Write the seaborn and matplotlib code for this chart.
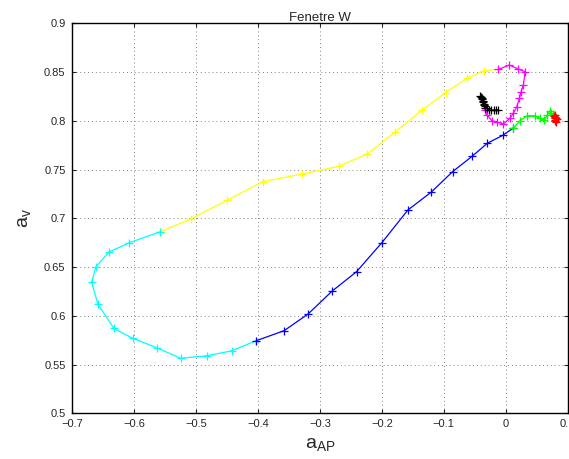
import matplotlib
matplotlib.use('Agg')
import matplotlib.pyplot as plt
import seaborn as sns
import pandas as pd

# trajectory segments (a_AP, a_v)
red_x = [0.082, 0.080, 0.079, 0.081, 0.083, 0.080, 0.078, 0.080, 0.0797]
red_y = [0.803, 0.806, 0.801, 0.799, 0.802, 0.804, 0.805, 0.800, 0.8026]

green_x = [0.0797, 0.076, 0.0740, 0.0717, 0.0674, 0.0626, 0.0556, 0.047, 0.035, 0.0232, 0.0126]
green_y = [0.8026, 0.807, 0.8077, 0.8104, 0.806, 0.8008, 0.8026, 0.8052, 0.8052, 0.8001, 0.7926]

blue_x = [0.0126, -0.0047, -0.0295, -0.0536, -0.0858, -0.120, -0.158, -0.200, -0.241, -0.281, -0.319, -0.358, -0.403]
blue_y = [0.7926, 0.7851, 0.777, 0.7639, 0.7478, 0.727, 0.7085, 0.675, 0.6452, 0.6250, 0.6020, 0.5847, 0.5745]

cyan_x = [-0.403, -0.443, -0.483, -0.525, -0.563, -0.603, -0.633, -0.659, -0.669, -0.662, -0.641, -0.608, -0.559]
cyan_y = [0.5745, 0.564, 0.559, 0.5564, 0.567, 0.577, 0.587, 0.612, 0.6344, 0.6504, 0.6654, 0.675, 0.686]

yellow_x = [-0.559, -0.509, -0.450, -0.3927, -0.329, -0.270, -0.2236, -0.178, -0.135, -0.097, -0.062, -0.035, -0.0116]
yellow_y = [0.686, 0.6993, 0.7185, 0.7376, 0.7454, 0.7533, 0.766, 0.7888, 0.811, 0.829, 0.8436, 0.8516, 0.8528]

magenta_x = [-0.0116, 0.0061, 0.0206, 0.0314, 0.0287, 0.025, 0.0222, 0.018, 0.0125, 0.0071, -0.0037, -0.0143, -0.022, -0.030, -0.033]
magenta_y = [0.8528, 0.8572, 0.8531, 0.8504, 0.8367, 0.830, 0.823, 0.8145, 0.808, 0.8026, 0.7967, 0.799, 0.7998, 0.806, 0.811]

black_x = [-0.033, -0.035, -0.037, -0.039, -0.040, -0.041, -0.039, -0.037, -0.035, -0.033, -0.030, -0.027, -0.023, -0.019, -0.015, -0.012]
black_y = [0.8134, 0.816, 0.819, 0.822, 0.824, 0.825, 0.823, 0.820, 0.817, 0.815, 0.813, 0.811, 0.811, 0.811, 0.811, 0.8113]

segments = [
    ('#ffff00', yellow_x, yellow_y),
    ('#00ffff', cyan_x, cyan_y),
    ('#0000ff', blue_x, blue_y),
    ('#00ff00', green_x, green_y),
    ('#ff0000', red_x, red_y),
    ('#ff00ff', magenta_x, magenta_y),
    ('#000000', black_x, black_y),
]

x_ticks = [-0.7, -0.6, -0.5, -0.4, -0.3, -0.2, -0.1, 0, 0.1]
y_ticks = [0.5, 0.55, 0.6, 0.65, 0.7, 0.75, 0.8, 0.85, 0.9]
x_labels = ['\u22120.7', '\u22120.6', '\u22120.5', '\u22120.4', '\u22120.3',
            '\u22120.2', '\u22120.1', '0', '0.1']
y_labels = ['0.5', '0.55', '0.6', '0.65', '0.7', '0.75', '0.8', '0.85', '0.9']

sns.set_style('ticks')
plt.rcParams['font.family'] = ['Liberation Sans', 'DejaVu Sans']
plt.rcParams['mathtext.default'] = 'regular'

fig = plt.figure(figsize=(5.69, 4.59), dpi=100)
ax = fig.add_axes([0.1274, 0.0996, 0.8700, 0.8496])

for color, xs, ys in segments:
    df = pd.DataFrame({'x': xs, 'y': ys})
    sns.lineplot(data=df, x='x', y='y', sort=False, estimator=None, color=color,
                 marker='+', markersize=6, markeredgewidth=0.9, markeredgecolor=color,
                 linewidth=0.9, ax=ax)

ax.set_xlim(-0.7, 0.1)
ax.set_ylim(0.5, 0.9)
ax.set_xticks(x_ticks)
ax.set_yticks(y_ticks)
ax.set_xticklabels(x_labels)
ax.set_yticklabels(y_labels)
ax.grid(True, linestyle=(0, (1, 3)), color='#808080', linewidth=0.7)
ax.tick_params(direction='in', length=3, width=0.8, labelsize=8, top=True, right=True)
ax.tick_params(axis='x', pad=4)
ax.tick_params(axis='y', pad=5)
for s in ax.spines.values():
    s.set_linewidth(1.0)
    s.set_color('black')

ax.set_title('Fenetre W', fontsize=9.5, pad=2)
ax.set_xlabel('$a_{AP}$', fontsize=14, labelpad=5)
ax.set_ylabel('$a_{v}$', fontsize=14, labelpad=8)

fig.savefig('out.png', dpi=100)
